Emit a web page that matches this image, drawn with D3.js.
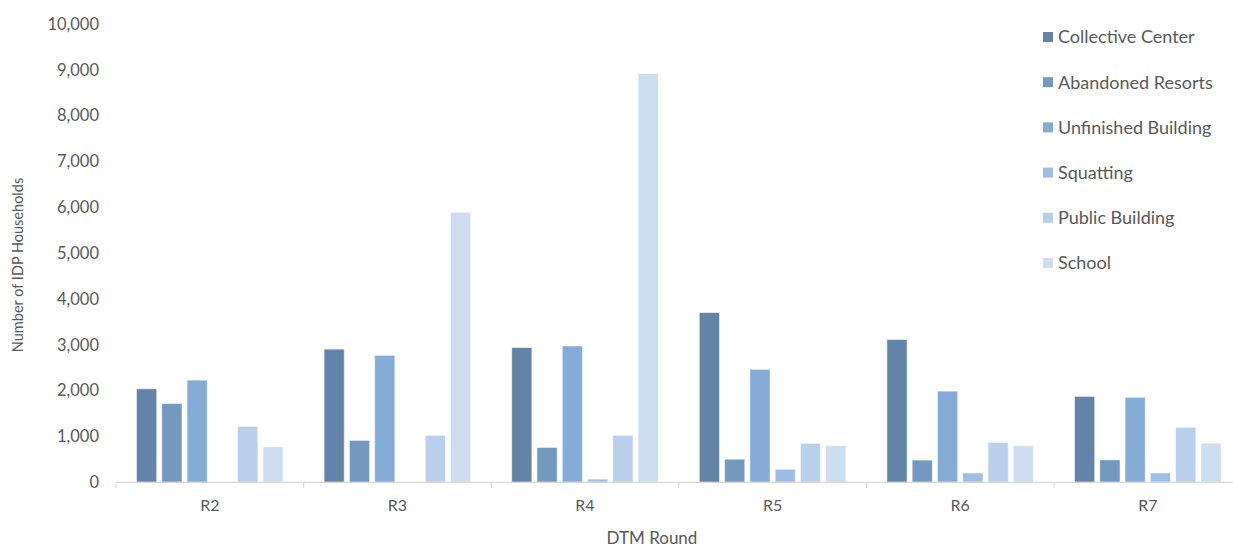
<!DOCTYPE html>
<html>
<head>
<meta charset="utf-8">
<script src="https://cdnjs.cloudflare.com/ajax/libs/d3/7.8.5/d3.min.js"></script>
<style>
  html, body { margin: 0; padding: 0; background: #ffffff; }
  svg { display: block; font-family: "Gill Sans MT", "Gill Sans", Lato, "Open Sans", sans-serif; }
</style>
</head>
<body>
<svg id="chart" width="1233" height="547"></svg>
<script>
// DTM rounds on the x axis
const rounds = ["R2", "R3", "R4", "R5", "R6", "R7"];

// Shelter types (one bar per type in each round)
const shelterTypes = ["Collective Center", "Abandoned Resorts", "Unfinished Building", "Squatting", "Public Building", "School"];

// Number of IDP households per shelter type, one value per round
const collectiveCenter   = [2040, 2905, 2940, 3705, 3115, 1875];
const abandonedResorts   = [1720,  915,  760,  505,  485,  490];
const unfinishedBuilding = [2230, 2770, 2975, 2465, 1990, 1855];
const squatting          = [   0,    0,   70,  285,  205,  205];
const publicBuilding     = [1220, 1025, 1025,  850,  870, 1200];
const school             = [ 775, 5890, 8920,  800,  800,  855];

// Y axis tick values
const yTicks = [0, 1000, 2000, 3000, 4000, 5000, 6000, 7000, 8000, 9000, 10000];

const seriesValues = [collectiveCenter, abandonedResorts, unfinishedBuilding, squatting, publicBuilding, school];
const colors = ["#6384a8", "#7399bf", "#84acd7", "#9ebfe5", "#b9cfec", "#cfddf1"];
const fontStack = "\"Gill Sans MT\", \"Gill Sans\", Lato, \"Open Sans\", sans-serif";

const svg = d3.select("#chart");
const plotLeft = 116, plotRight = 1241.6, plotTop = 24, plotBottom = 482.3;

const x0 = d3.scaleBand().domain(rounds).range([plotLeft, plotRight]).paddingInner(0).paddingOuter(0);
const x1 = d3.scaleBand().domain(shelterTypes).range([0, x0.bandwidth()])
  .paddingInner(0.2).paddingOuter(0.81);
const y = d3.scaleLinear().domain([0, 10000]).range([plotBottom, plotTop]);
const color = d3.scaleOrdinal().domain(shelterTypes).range(colors);

const rows = rounds.map((r, i) => ({
  round: r,
  values: shelterTypes.map((t, j) => ({ type: t, value: seriesValues[j][i] }))
}));

// Bars
const groups = svg.append("g").selectAll("g").data(rows).join("g")
  .attr("transform", d => `translate(${x0(d.round)},0)`);
groups.selectAll("rect").data(d => d.values.filter(v => v.value > 0)).join("rect")
  .attr("x", d => x1(d.type))
  .attr("width", x1.bandwidth())
  .attr("y", d => y(d.value))
  .attr("height", d => y(0) - y(d.value))
  .attr("fill", d => color(d.type))
  .attr("stroke", "rgba(255,255,255,0.55)")
  .attr("stroke-width", 1);

// X axis: baseline with ticks on category boundaries
const xAxis = svg.append("g").attr("transform", `translate(0,${plotBottom})`);
xAxis.append("line")
  .attr("x1", plotLeft).attr("x2", plotRight).attr("y1", 0).attr("y2", 0)
  .attr("stroke", "#d9d9d9").attr("stroke-width", 1.2);
const boundaries = rounds.map(r => x0(r)).concat([x0(rounds[rounds.length - 1]) + x0.bandwidth()]);
xAxis.selectAll("line.tick").data(boundaries).join("line")
  .attr("class", "tick")
  .attr("x1", d => d).attr("x2", d => d).attr("y1", 0).attr("y2", 6)
  .attr("stroke", "#d9d9d9").attr("stroke-width", 1.2);
xAxis.selectAll("text").data(rounds).join("text")
  .attr("x", d => x0(d) + x0.bandwidth() / 2)
  .attr("y", 29)
  .attr("text-anchor", "middle")
  .attr("fill", "#595959")
  .attr("font-size", 16)
  .text(d => d);

// Y axis labels (no axis line)
const yAxis = d3.axisLeft(y).tickValues(yTicks).tickFormat(d3.format(",")).tickSize(0).tickPadding(0);
const yg = svg.append("g").attr("transform", `translate(99,0)`).call(yAxis);
yg.select(".domain").remove();
yg.selectAll("text").attr("fill", "#595959").attr("font-size", 16.5)
  .attr("font-family", fontStack);

// Axis titles
svg.append("text")
  .attr("transform", "translate(23,265) rotate(-90)")
  .attr("text-anchor", "middle")
  .attr("fill", "#595959")
  .attr("font-size", 14.5)
  .text("Number of IDP Households");
svg.append("text")
  .attr("x", 652).attr("y", 544)
  .attr("text-anchor", "middle")
  .attr("fill", "#595959")
  .attr("font-size", 17)
  .text("DTM Round");

// Legend
const legend = svg.append("g").selectAll("g").data(shelterTypes).join("g")
  .attr("transform", (d, i) => `translate(1043,${37 + i * 45.2})`);
legend.append("rect")
  .attr("x", 0).attr("y", -5).attr("width", 10).attr("height", 10)
  .attr("fill", d => color(d));
legend.append("text")
  .attr("x", 15).attr("y", 0).attr("dy", "0.35em")
  .attr("fill", "#595959")
  .attr("font-size", 18)
  .text(d => d);
</script>
</body>
</html>
